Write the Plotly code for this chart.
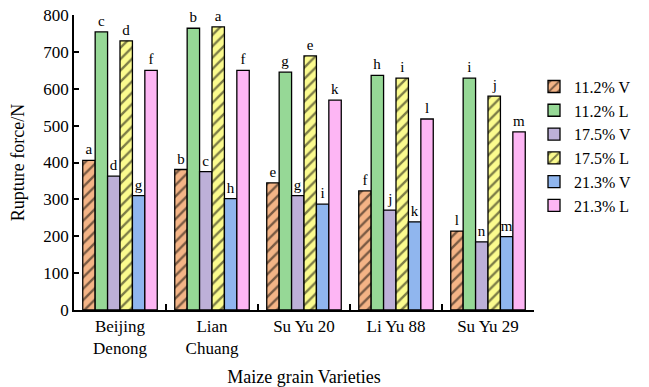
import plotly.graph_objects as go

categories = ["Beijing<br>Denong", "Lian<br>Chuang", "Su Yu 20", "Li Yu 88", "Su Yu 29"]
series_names = ["11.2% V", "11.2% L", "17.5% V", "17.5% L", "21.3% V", "21.3% L"]
v112 = [406, 381, 345, 323, 214]
l112 = [754, 764, 645, 636, 629]
v175 = [363, 375, 310, 271, 185]
l175 = [730, 768, 689, 629, 580]
v213 = [310, 302, 287, 239, 199]
l213 = [650, 650, 569, 518, 483]
letters_v112 = ["a", "b", "e", "f", "l"]
letters_l112 = ["c", "b", "g", "h", "i"]
letters_v175 = ["d", "c", "g", "j", "n"]
letters_l175 = ["d", "a", "e", "i", "j"]
letters_v213 = ["g", "h", "i", "k", "m"]
letters_l213 = ["f", "f", "k", "l", "m"]

values = [v112, l112, v175, l175, v213, l213]
letters = [letters_v112, letters_l112, letters_v175, letters_l175, letters_v213, letters_l213]
colors = ["#F4B486", "#96D896", "#BDB0D8", "#FBFB8E", "#90B6EE", "#FDB6F4"]
hatched = [True, False, False, True, False, False]

FONT = "Liberation Serif"

fig = go.Figure()
for name, vals, lets, col, h in zip(series_names, values, letters, colors, hatched):
    pattern = dict(shape="/", fgcolor="black", bgcolor=col, size=8, solidity=0.3) if h else dict(shape="")
    fig.add_trace(go.Bar(
        x=categories, y=vals, name=name, text=lets, textposition="outside",
        textfont=dict(family=FONT, size=15, color="black"),
        marker=dict(color=col, line=dict(color="black", width=1.3), pattern=pattern),
        cliponaxis=False,
    ))

fig.update_layout(
    width=649, height=387,
    margin=dict(l=74, r=99, t=15, b=77),
    paper_bgcolor="white", plot_bgcolor="white",
    barmode="group", bargap=0.19, bargroupgap=0,
    font=dict(family=FONT, size=17, color="black"),
    showlegend=True,
    legend=dict(x=1.0, y=0.815, xanchor="left", yanchor="top",
                font=dict(family=FONT, size=16, color="black"),
                tracegroupgap=0, itemwidth=30, bgcolor="rgba(0,0,0,0)"),
    uniformtext=dict(mode=False),
)
fig.update_xaxes(
    automargin=False,
    showline=True, linecolor="black", linewidth=1.5,
    ticks="inside", tickson="boundaries", ticklen=6, tickcolor="black", tickwidth=1.5,
    tickfont=dict(family=FONT, size=17),
    title=dict(text="Maize grain Varieties", font=dict(family=FONT, size=18), standoff=18),
    showgrid=False,
)
fig.update_yaxes(
    automargin=False,
    range=[0, 800], dtick=100, showline=True, linecolor="black", linewidth=1.5,
    ticks="inside", ticklen=5, tickcolor="black", tickwidth=1.5,
    tickfont=dict(family=FONT, size=17),
    title=dict(text="Rupture force/N", font=dict(family=FONT, size=18), standoff=14),
    showgrid=False, zeroline=False,
)

fig.write_html("out.html")
